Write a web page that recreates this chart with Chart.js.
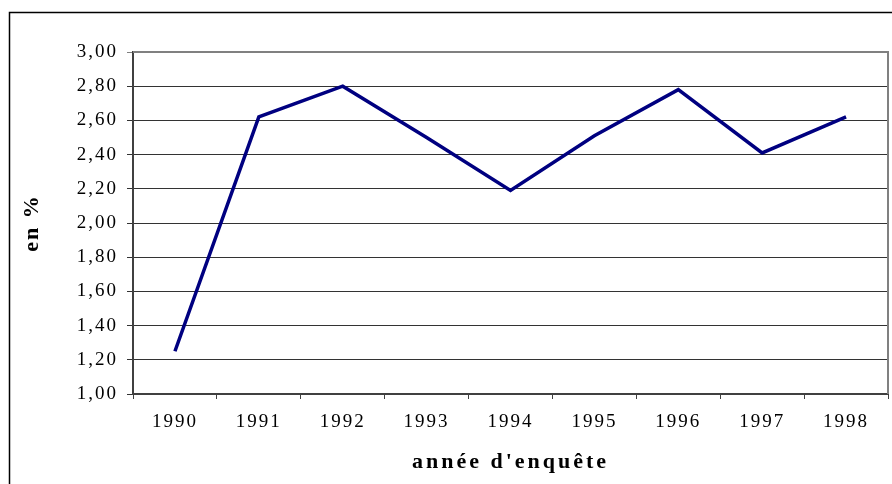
<!DOCTYPE html>
<html><head><meta charset="utf-8">
<script src="https://cdn.jsdelivr.net/npm/chart.js@4"></script>
<style>html,body{margin:0;padding:0;background:#fff;} canvas{display:block;}</style>
</head><body>
<canvas id="c" width="892" height="484"></canvas>
<script>
const categories = ['1990','1991','1992','1993','1994','1995','1996','1997','1998'];
const rates = [1.25, 2.62, 2.80, 2.50, 2.19, 2.51, 2.78, 2.41, 2.62];
const yTickLabels = ['1,00','1,20','1,40','1,60','1,80','2,00','2,20','2,40','2,60','2,80','3,00'];
const yTitle = 'en %';
const xTitle = "année d'enquête";

const spacingPlugin = {
  id: 'spacing',
  beforeUpdate(chart) { chart.ctx.letterSpacing = '2px'; },
  beforeDraw(chart) {
    chart.ctx.letterSpacing = '2px';
    const xs = chart.scales.x;
    if (xs && !xs._patched) {
      const orig = xs.drawTitle.bind(xs);
      xs.drawTitle = function () {
        const c = this.ctx; const prev = c.letterSpacing;
        c.letterSpacing = '3px'; orig(); c.letterSpacing = prev;
      };
      xs._patched = true;
    }
  }
};

const framePlugin = {
  id: 'frame',
  beforeDatasetsDraw(chart) {
    const {ctx, chartArea: a} = chart;
    ctx.save();
    ctx.strokeStyle = '#808080';
    ctx.lineWidth = 2;
    ctx.beginPath();
    ctx.moveTo(a.left, a.top);
    ctx.lineTo(a.right, a.top);
    ctx.lineTo(a.right, a.bottom);
    ctx.stroke();
    ctx.strokeStyle = '#000';
    ctx.lineWidth = 1.5;
    ctx.beginPath();
    ctx.moveTo(9.5, 490);
    ctx.lineTo(9.5, 12.5);
    ctx.lineTo(900, 12.5);
    ctx.stroke();
    ctx.restore();
  }
};

new Chart(document.getElementById('c'), {
  type: 'line',
  data: {
    labels: categories,
    datasets: [{
      data: rates,
      borderColor: '#000080',
      borderWidth: 3.5,
      pointRadius: 0,
      tension: 0,
      fill: false
    }]
  },
  options: {
    responsive: false,
    animation: false,
    devicePixelRatio: 1,
    layout: { padding: { top: 52, right: 4, left: 0, bottom: 0 } },
    plugins: { legend: { display: false }, tooltip: { enabled: false } },
    scales: {
      x: {
        offset: true,
        grid: { offset: true, drawOnChartArea: false, drawTicks: true, tickLength: 5, color: '#404040', lineWidth: 1 },
        border: { display: true, color: '#404040', width: 2 },
        ticks: { autoSkip: false, maxRotation: 0, minRotation: 0, padding: 12, color: '#000',
                  font: { family: "'Liberation Serif', 'Times New Roman', serif", size: 19 } },
        title: { display: true, text: xTitle, color: '#000', padding: { top: 0, bottom: 8 },
                 font: { family: "'Liberation Serif', 'Times New Roman', serif", size: 22, weight: 'bold' } },
        afterFit(scale) { scale.height = 90; }
      },
      y: {
        min: 1, max: 3,
        ticks: { stepSize: 0.2, padding: 9, color: '#000',
                 font: { family: "'Liberation Serif', 'Times New Roman', serif", size: 19 },
                 callback: (v, i) => yTickLabels[i] },
        grid: { drawTicks: true, tickLength: 6,
                color: (ctx) => (ctx.tick && Math.abs(ctx.tick.value - 3) < 1e-6) ? '#808080' : '#333333',
                lineWidth: 1 },
        border: { display: true, color: '#404040', width: 2 },
        title: { display: true, text: yTitle, color: '#000', padding: { top: 19, bottom: 0 },
                 font: { family: "'Liberation Serif', 'Times New Roman', serif", size: 22, weight: 'bold' } },
        afterFit(scale) { scale.width = 133; }
      }
    }
  },
  plugins: [spacingPlugin, framePlugin]
});
</script>
</body></html>
